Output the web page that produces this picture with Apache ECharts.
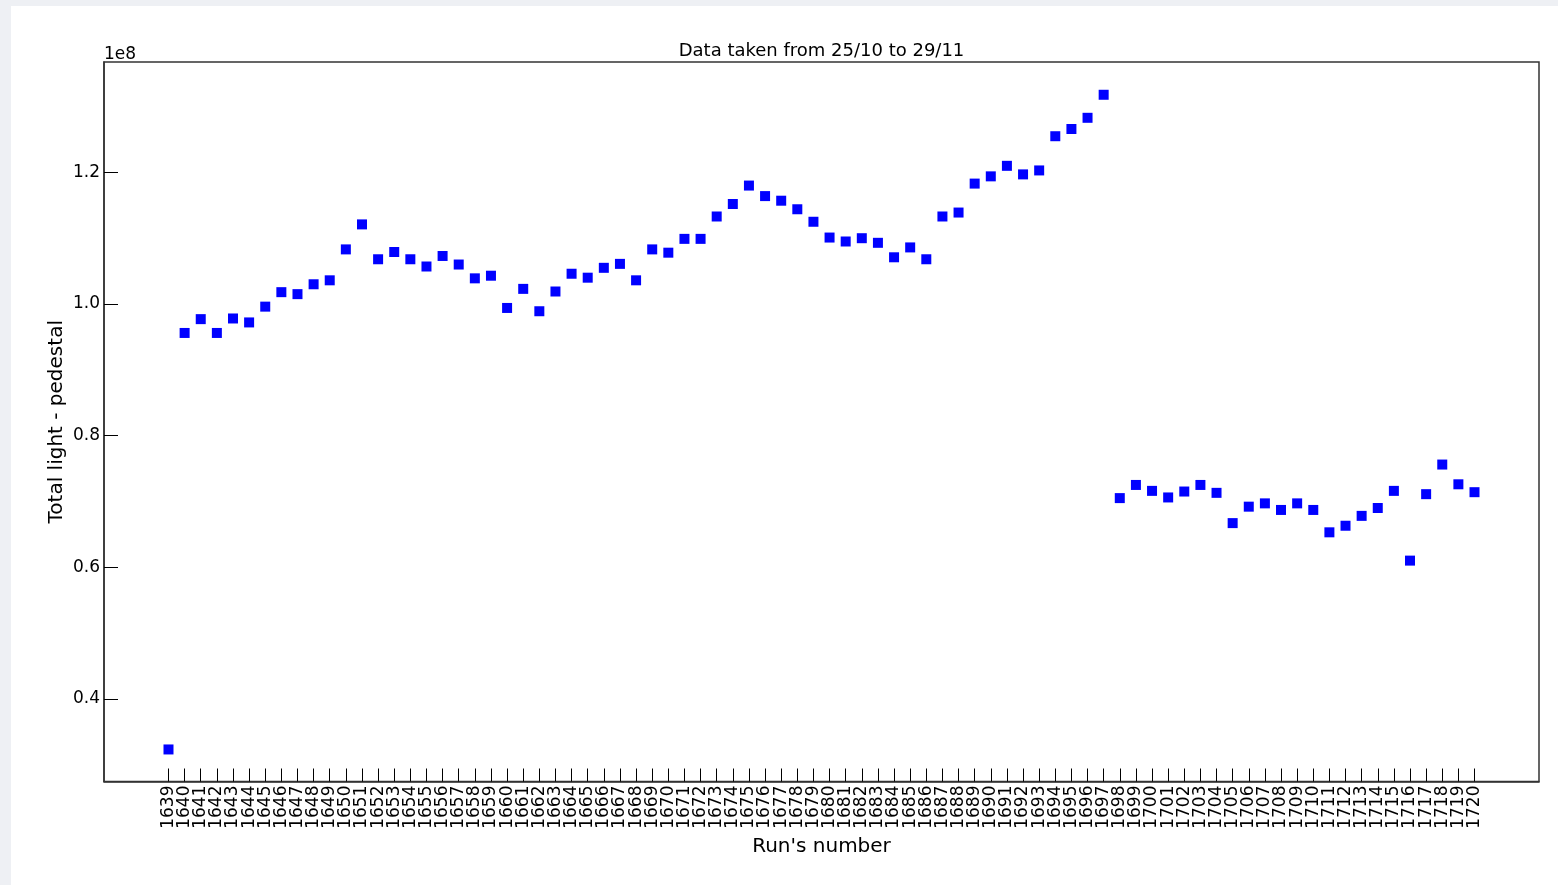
<!DOCTYPE html>
<html>
<head>
<meta charset="utf-8">
<script src="https://cdn.jsdelivr.net/npm/echarts@6/dist/echarts.min.js"></script>
<style>
  html, body { margin: 0; padding: 0; background: #eef0f4; }
  #panel { position: absolute; left: 11px; top: 6px; right: 0; bottom: 0; background: #ffffff; }
  #chart { position: absolute; left: 0; top: 0; width: 1558px; height: 885px; }
</style>
</head>
<body>
<div id="panel"></div>
<div id="chart"></div>
<script>
// Run numbers on the x axis
const runs = [];
for (let r = 1639; r <= 1720; r++) runs.push(r);

// Total light minus pedestal per run, in units of 1e8
const lightRuns1639to1668 = [
  0.323, 0.956, 0.977, 0.956, 0.978, 0.972, 0.996, 1.018, 1.015, 1.030,
  1.036, 1.083, 1.121, 1.068, 1.079, 1.068, 1.057, 1.073, 1.060, 1.039,
  1.043, 0.994, 1.023, 0.989, 1.019, 1.046, 1.040, 1.055, 1.061, 1.036
];
const lightRuns1669to1697 = [
  1.083, 1.078, 1.099, 1.099, 1.133, 1.152, 1.180, 1.164, 1.157, 1.144,
  1.125, 1.101, 1.095, 1.100, 1.093, 1.071, 1.086, 1.068, 1.133, 1.139,
  1.183, 1.194, 1.210, 1.197, 1.203, 1.255, 1.266, 1.283, 1.318
];
const lightRuns1698to1720 = [
  0.705, 0.725, 0.716, 0.706, 0.715, 0.725, 0.713, 0.667, 0.692, 0.697,
  0.687, 0.697, 0.687, 0.653, 0.663, 0.678, 0.690, 0.716, 0.610, 0.711,
  0.756, 0.726, 0.714
];
const totalLight = lightRuns1639to1668.concat(lightRuns1669to1697, lightRuns1698to1720);

// Tick labels of the value axis
const yTicks = [0.4, 0.6, 0.8, 1.0, 1.2];

const titleText = 'Data taken from 25/10 to 29/11';
const xName = "Run's number";
const yName = 'Total light - pedestal';
const offsetText = '1e8';

const FONT = "'DejaVu Sans', sans-serif";
const FRAME = '#333333';
const X_MIN = 1635;
const X_MAX = 1724;

// Odd and even runs go on two overlaid axes so neighbouring labels never collide
const oddRuns = runs.filter(r => r % 2 === 1);
const evenRuns = runs.filter(r => r % 2 === 0);

function runAxis(values, withName) {
  return {
    type: 'value', min: X_MIN, max: X_MAX, position: 'bottom',
    name: withName ? xName : '',
    nameLocation: 'middle',
    nameGap: 54,
    nameTextStyle: { fontFamily: FONT, fontSize: 20, color: '#000' },
    axisLine: { show: false, onZero: false },
    splitLine: { show: false },
    axisTick: { show: true, inside: true, length: 13, customValues: values,
                lineStyle: { color: '#000', width: 1 } },
    axisLabel: { show: true, rotate: 90, margin: 4, customValues: values,
                 showMinLabel: true, showMaxLabel: true,
                 fontFamily: FONT, fontSize: 17, color: '#000',
                 formatter: v => String(Math.round(v)) }
  };
}

const chart = echarts.init(document.getElementById('chart'), null, { renderer: 'canvas' });

const points = runs.map((r, i) => [r, totalLight[i]]);

chart.setOption({
  animation: false,
  backgroundColor: 'transparent',
  textStyle: { fontFamily: FONT },
  grid: { left: 104, right: 19, top: 62, bottom: 103.5, containLabel: false,
          show: true, borderColor: FRAME, borderWidth: 1.5, backgroundColor: 'transparent' },
  xAxis: [
    // axis carrying the data
    {
      type: 'value', min: X_MIN, max: X_MAX,
      axisLine: { show: true, onZero: false, lineStyle: { color: FRAME, width: 1.5 } },
      axisTick: { show: false }, axisLabel: { show: false }, splitLine: { show: false }
    },
    runAxis(oddRuns, true),
    runAxis(evenRuns, false)
  ],
  yAxis: {
    type: 'value',
    min: 0.2743,
    max: 1.3678,
    name: yName,
    nameLocation: 'middle',
    nameGap: 37,
    nameMoveOverlap: false,
    nameRotate: 90,
    nameTextStyle: { fontFamily: FONT, fontSize: 20, color: '#000' },
    axisLine: { show: true, onZero: false, lineStyle: { color: FRAME, width: 1.5 } },
    splitLine: { show: false },
    axisTick: { show: true, inside: true, length: 14, customValues: yTicks,
                lineStyle: { color: '#000', width: 1 } },
    axisLabel: { show: true, margin: 4, customValues: yTicks,
                 showMinLabel: true, showMaxLabel: true,
                 fontFamily: FONT, fontSize: 17, color: '#000',
                 formatter: v => v.toFixed(1) }
  },
  graphic: [
    { type: 'text', x: 821.5, y: 51, z: 10,
      style: { text: titleText, fill: '#000',
               font: '18px ' + FONT, textAlign: 'center', textVerticalAlign: 'middle' } },
    { type: 'text', x: 104, y: 55, z: 10,
      style: { text: offsetText, fill: '#000',
               font: '17px ' + FONT, textAlign: 'left', textVerticalAlign: 'middle' } }
  ],
  series: [{
    type: 'scatter',
    xAxisIndex: 0,
    symbol: 'rect',
    symbolSize: 10,
    itemStyle: { color: '#0000ff', opacity: 1 },
    data: points,
    clip: false
  }]
});
</script>
</body>
</html>
